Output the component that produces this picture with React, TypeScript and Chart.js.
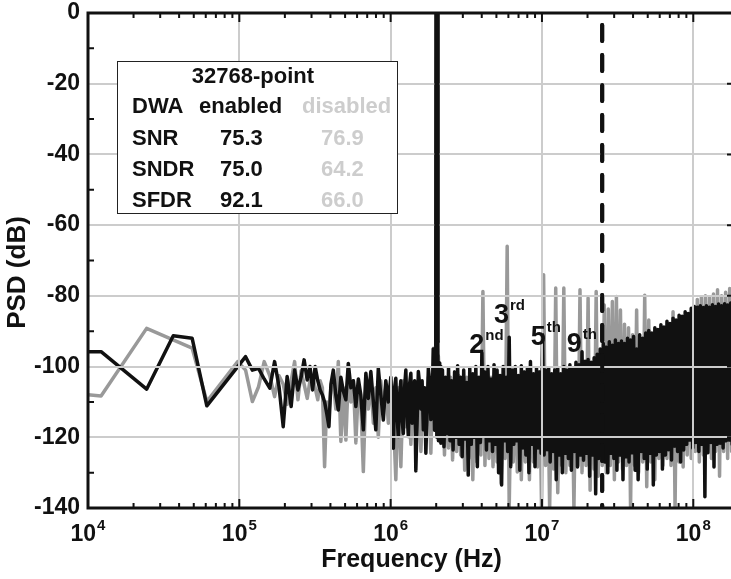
import React, { useEffect, useRef } from "react";
import { Chart, registerables } from "chart.js";

Chart.register(...registerables);

const FONT = "'Liberation Sans', Arial, Helvetica, sans-serif";
const BLACK = "#111111";
const GRAY = "#999999";
const LIGHT = "#cdcdcd";
const GRID = "#cccccc";

const CANVAS_W = 736;
const CANVAS_H = 579;

// ---------- axes ----------
const freqMin = 1e4;
const freqMax = 1.83e8;
const decadeTicks = [1e4, 1e5, 1e6, 1e7, 1e8];
const decadeExponents = ["4", "5", "6", "7", "8"];
const minorMultipliers = [2, 3, 4, 5, 6, 7, 8, 9];
const dbMin = -140;
const dbMax = 0;
const dbTicks = [0, -20, -40, -60, -80, -100, -120, -140];
const dbMinorTicks = [-10, -30, -50, -70, -90, -110, -130];

// ---------- DWA enabled (black), low-frequency bins ----------
const blackLowHz = [
  1e4, 1.22e4, 2.44e4, 3.66e4, 4.88e4, 6.1e4, 1.1e5, 1.22e5, 1.34e5, 1.46e5,
  1.59e5, 1.71e5, 1.83e5, 1.95e5, 2.07e5, 2.2e5, 2.32e5, 2.44e5, 2.56e5, 2.68e5,
  2.81e5, 2.93e5, 3.05e5, 3.17e5, 3.3e5, 3.42e5, 3.54e5, 3.66e5, 3.78e5, 3.91e5,
  4.03e5, 4.18e5, 4.34e5, 4.51e5, 4.69e5, 4.87e5, 5.06e5, 5.25e5, 5.46e5, 5.67e5,
  5.89e5, 6.12e5, 6.35e5, 6.6e5, 6.86e5, 7.12e5, 7.4e5, 7.69e5, 7.98e5, 8.29e5,
  8.61e5, 8.95e5, 9.29e5, 9.66e5, 1.003e6, 1.022e6, 1.042e6, 1.062e6, 1.082e6, 1.103e6,
  1.124e6, 1.146e6, 1.168e6, 1.19e6, 1.213e6, 1.236e6, 1.26e6, 1.284e6, 1.309e6, 1.334e6,
  1.36e6, 1.386e6, 1.413e6, 1.44e6, 1.467e6, 1.495e6, 1.524e6, 1.554e6, 1.584e6, 1.614e6,
  1.645e6, 1.677e6, 1.709e6, 1.742e6, 1.775e6, 1.81e6, 1.844e6, 1.88e6, 1.915e6, 1.95e6,
  1.99e6, 2.02e6, 2.05e6, 2.07e6, 2.09e6, 2.11e6, 2.13e6, 2.147e6, 2.17e6,
];
const blackLowDb = [
  -95.8, -95.8, -106.4, -91.3, -92, -111.1, -97.2, -101, -100.5, -103.5,
  -106.1, -98.6, -105.7, -117, -102.8, -111.3, -101, -106.6, -103, -98.1,
  -103.8, -100, -106.6, -100, -104, -106.6, -108, -110, -113.2, -117,
  -105, -101, -108, -112.3, -103, -107, -109.4, -99.1, -106, -104,
  -111.3, -103.5, -108, -117.9, -101.9, -109, -101.4, -110, -117.9, -100.5,
  -108, -115.1, -104, -110, -103, -112, -123.1, -106, -103.3, -114,
  -119.8, -108, -104, -115, -118.9, -106, -101, -113, -119.8, -105,
  -101.9, -116, -112, -104, -129.5, -116, -101.4, -105, -112, -104,
  -117.9, -106, -124.5, -113, -100.5, -104, -115, -110, -95, -118,
  -94, -120, -93, -121, -99, -118, -100, -121.7, -103,
];

// ---------- DWA disabled (gray), low-frequency bins ----------
const grayLowHz = [
  1e4, 1.22e4, 2.44e4, 4.88e4, 6.1e4, 9.76e4, 1.1e5, 1.22e5, 1.34e5, 1.46e5,
  1.59e5, 1.71e5, 1.83e5, 1.95e5, 2.07e5, 2.2e5, 2.32e5, 2.44e5, 2.56e5, 2.68e5,
  2.81e5, 2.93e5, 3.05e5, 3.17e5, 3.3e5, 3.42e5, 3.54e5, 3.66e5, 3.78e5, 3.91e5,
  4.03e5, 4.18e5, 4.34e5, 4.51e5, 4.69e5, 4.87e5, 5.06e5, 5.25e5, 5.46e5, 5.67e5,
  5.89e5, 6.12e5, 6.35e5, 6.6e5, 6.86e5, 7.12e5, 7.4e5, 7.69e5, 7.98e5, 8.29e5,
  8.61e5, 8.95e5, 9.29e5, 9.66e5, 1.003e6, 1.042e6, 1.082e6, 1.124e6, 1.168e6, 1.213e6,
  1.26e6, 1.309e6, 1.36e6, 1.413e6, 1.467e6, 1.524e6, 1.584e6, 1.645e6, 1.709e6, 1.775e6,
  1.844e6, 1.915e6, 1.99e6, 2.067e6, 2.147e6,
];
const grayLowDb = [
  -108, -108.3, -89.2, -94.8, -109.9, -98.6, -101, -109.9, -105.7, -98.6,
  -102.6, -108.5, -102.6, -105, -110.7, -104, -98.6, -109.4, -101.2, -105,
  -109, -104, -103.1, -106, -109.4, -104, -106, -128.3, -110, -113,
  -106, -104, -112, -98.6, -121.2, -106, -120.8, -103, -110, -104,
  -121.6, -106, -110, -129.7, -105, -112, -104, -116, -106, -120,
  -104, -112, -106, -116, -104, -114, -132, -106, -128.3, -104,
  -117, -106, -122, -105, -116, -104, -124, -106, -118, -103,
  -124.5, -94.8, -100, -97, -112,
];

// ---------- signal tone ----------
const signalHz = [1.99e6, 2.0e6, 2.035e6, 2.05e6];
const signalDb = [-94, 0, 0, -93];

// ---------- signal bandwidth marker ----------
const bandwidthHz = 2.5e7;

// ---------- dense high-frequency region: alternating peak / trough bins ----------
const denseStartHz = 2.2e6;
const denseEndHz = 1.85e8;
const blackDenseHi = [
  -101, -103, -100.5, -104, -101.5, -99.8, -103, -101, -104.5, -100.5,
  -102, -100, -103, -96.2, -101.5, -100, -103.5, -99.5, -101, -102.5,
  -100, -103, -91.7, -101, -100, -102.5, -99.8, -101.5, -100.5, -98.6,
  -102, -100.5, -101.5, -91, -101, -100.5, -102, -101, -100.5, -102,
  -100, -101, -99.5, -100.5, -98.8, -99.5, -95.8, -98.5, -98, -98.8,
  -97.5, -96.5, -95, -93.5, -94.5, -93, -94, -92.5, -93.5, -92.8,
  -93.5, -92, -92.5, -91.5, -95, -91, -92, -90.5, -89.8, -90.5,
  -89, -89.5, -88.2, -88.8, -87.2, -87.8, -86.3, -86.8, -85.5, -85.8,
  -84.5, -85, -83.5, -83, -83.2, -82.8, -83.3, -82.8, -83.2, -82.5,
  -83, -82.3, -82.8, -82.2, -82.6, -82,
];
const blackDenseLo = [
  -122.7, -119, -121, -123.6, -120, -122, -125.5, -120.5, -130.7, -122,
  -120, -128.3, -121.5, -119.5, -123.6, -121, -124, -122, -130, -133.5,
  -121, -124, -128.3, -122, -121, -129.3, -123, -125, -130, -122,
  -128.3, -123, -124.5, -125, -123.5, -127, -124, -132, -125, -130,
  -124.5, -126, -129.3, -124, -128.4, -125, -126.5, -124.5, -131, -125,
  -136, -126, -125, -127, -130, -124.5, -126, -129.3, -125, -132,
  -125.5, -127, -124.4, -129.3, -132, -124, -126, -129, -124.5, -133.5,
  -125, -124, -129, -125, -123.5, -126.4, -122.5, -124, -127, -123.6,
  -122, -120.8, -123, -121.5, -124, -122, -136.8, -124.4, -121.5, -128.4,
  -122, -121.7, -123, -121, -120.8, -122,
];
const grayDenseHi = [
  -103, -104, -103, -104, -102.5, -104, -103, -104, -102.5, -104,
  -78.8, -104, -103, -104, -102.5, -104, -66, -104, -103, -104,
  -102.5, -104, -103, -104, -103, -74, -103, -104, -77.8, -103,
  -77.8, -102, -101.5, -101, -78.3, -100, -80.6, -99.5, -78.8, -97,
  -82.6, -83.7, -81.6, -80.2, -84, -88, -89, -91, -84, -94,
  -79.8, -86.8, -92, -91, -90, -89.5, -88.5, -84.5, -88, -87,
  -86.5, -86, -84.5, -81, -80.5, -80, -80.5, -79.5, -78.3, -80,
  -79, -77.9,
];
const grayDenseLo = [
  -125, -123, -126.4, -124, -125, -129.3, -126, -132, -127, -125,
  -128, -126, -128.3, -127, -133, -126, -140, -127, -129.8, -132,
  -127, -132, -127, -128.4, -140, -128, -140, -129, -135.7, -128,
  -130, -128, -140, -128, -130, -128, -135, -129, -131, -128,
  -130, -128, -132, -127, -129, -128, -140, -128, -130, -127,
  -134, -127, -132, -126, -128, -126, -128, -140, -127, -128.4,
  -125, -126, -124, -127, -125, -124, -126, -124, -131, -124,
  -126, -124,
];

// ---------- text ----------
const legendTitle = "32768-point";
const legendHeader = ["DWA", "enabled", "disabled"];
const legendMetrics = ["SNR", "SNDR", "SFDR"];
const legendEnabled = ["75.3", "75.0", "92.1"];
const legendDisabled = ["76.9", "64.2", "66.0"];
const harmonicMain = ["2", "3", "5", "9"];
const harmonicSup = ["nd", "rd", "th", "th"];
// anchor (left / baseline) of each harmonic label, in axis units
const harmonicLabelHz = [3.31e6, 4.82e6, 8.43e6, 1.46e7];
const harmonicLabelDb = [-96.1, -87.8, -93.9, -95.8];

function buildSeries(lowHz: number[], lowDb: number[], hi: number[], lo: number[]) {
  const pts = lowHz.map((f, i) => ({ x: f, y: lowDb[i] }));
  const n = hi.length;
  const ratio = denseEndHz / denseStartHz;
  for (let i = 0; i < n; i++) {
    pts.push({ x: denseStartHz * Math.pow(ratio, i / n), y: hi[i] });
    pts.push({ x: denseStartHz * Math.pow(ratio, (i + 0.5) / n), y: lo[i] });
  }
  return pts;
}

const overlayPlugin = {
  id: "psdOverlay",
  afterDraw(chart: any) {
    const ctx: CanvasRenderingContext2D = chart.ctx;
    const { left, right, top, bottom } = chart.chartArea;
    const xs = chart.scales.x;
    const ys = chart.scales.y;

    // markers (signal tone + bandwidth) on top of the grid
    [0, 1].forEach((i) => {
      const meta = chart.getDatasetMeta(i);
      ctx.save();
      ctx.beginPath();
      ctx.rect(left, top, right - left, bottom - top);
      ctx.clip();
      meta.controller.draw();
      ctx.restore();
    });

    ctx.save();
    // ticks
    ctx.strokeStyle = BLACK;
    ctx.lineWidth = 2;
    ctx.beginPath();
    decadeTicks.forEach((d) => {
      const px = xs.getPixelForValue(d);
      ctx.moveTo(px, bottom);
      ctx.lineTo(px, bottom - 9);
      ctx.moveTo(px, top);
      ctx.lineTo(px, top + 9);
      minorMultipliers.forEach((m) => {
        const v = d * m;
        if (v > freqMax) return;
        const p = xs.getPixelForValue(v);
        ctx.moveTo(p, bottom);
        ctx.lineTo(p, bottom - 5);
        ctx.moveTo(p, top);
        ctx.lineTo(p, top + 5);
      });
    });
    dbMinorTicks.forEach((v) => {
      const py = ys.getPixelForValue(v);
      ctx.moveTo(left, py);
      ctx.lineTo(left + 6, py);
    });
    dbTicks.forEach((v) => {
      const py = ys.getPixelForValue(v);
      ctx.moveTo(right, py);
      ctx.lineTo(right - 6, py);
    });
    ctx.stroke();

    // frame
    ctx.lineWidth = 3;
    ctx.strokeRect(left, top, right - left, bottom - top);

    // x tick labels 10^n
    ctx.fillStyle = BLACK;
    ctx.textBaseline = "alphabetic";
    ctx.textAlign = "left";
    decadeTicks.forEach((d, i) => {
      const px = xs.getPixelForValue(d);
      ctx.font = `bold 23px ${FONT}`;
      const w1 = ctx.measureText("10").width;
      ctx.font = `bold 15px ${FONT}`;
      const w2 = ctx.measureText(decadeExponents[i]).width;
      const start = px - (w1 + 1 + w2) / 2;
      ctx.font = `bold 23px ${FONT}`;
      ctx.fillText("10", start, 541);
      ctx.font = `bold 15px ${FONT}`;
      ctx.fillText(decadeExponents[i], start + w1 + 1, 530);
    });

    // axis titles
    ctx.font = `bold 25px ${FONT}`;
    ctx.textAlign = "center";
    ctx.fillText("Frequency (Hz)", (left + 731) / 2 + 2, 567);
    ctx.save();
    ctx.translate(25, 272.5);
    ctx.rotate(-Math.PI / 2);
    ctx.font = `bold 26px ${FONT}`;
    ctx.fillText("PSD (dB)", 0, 0);
    ctx.restore();

    // legend box
    const bx = left + 29;
    const by = top + 48;
    ctx.fillStyle = "#ffffff";
    ctx.fillRect(bx, by, 280, 152);
    ctx.strokeStyle = "#222222";
    ctx.lineWidth = 1;
    ctx.strokeRect(bx + 0.5, by + 0.5, 280, 152);
    ctx.font = `bold 22px ${FONT}`;
    ctx.fillStyle = BLACK;
    ctx.textAlign = "center";
    ctx.fillText(legendTitle, bx + 136, by + 22);
    ctx.textAlign = "left";
    ctx.fillText(legendHeader[0], bx + 15, by + 52);
    ctx.fillText(legendHeader[1], bx + 82, by + 52);
    ctx.fillStyle = LIGHT;
    ctx.fillText(legendHeader[2], bx + 185, by + 52);
    legendMetrics.forEach((m, i) => {
      const yy = by + 83.5 + i * 31.3;
      ctx.fillStyle = BLACK;
      ctx.fillText(m, bx + 15, yy);
      ctx.fillText(legendEnabled[i], bx + 103, yy);
      ctx.fillStyle = LIGHT;
      ctx.fillText(legendDisabled[i], bx + 204, yy);
    });

    // harmonic labels
    ctx.fillStyle = BLACK;
    harmonicMain.forEach((t, i) => {
      const px = xs.getPixelForValue(harmonicLabelHz[i]);
      const py = ys.getPixelForValue(harmonicLabelDb[i]);
      ctx.font = `bold 27px ${FONT}`;
      const w = ctx.measureText(t).width;
      ctx.fillText(t, px, py);
      ctx.font = `bold 15px ${FONT}`;
      ctx.fillText(harmonicSup[i], px + w + 1, py - 13);
    });
    ctx.restore();
  },
};

export default function App() {
  const canvasRef = useRef<HTMLCanvasElement | null>(null);

  useEffect(() => {
    const canvas = canvasRef.current;
    if (!canvas) return;
    const blackData = buildSeries(blackLowHz, blackLowDb, blackDenseHi, blackDenseLo);
    const grayData = buildSeries(grayLowHz, grayLowDb, grayDenseHi, grayDenseLo);
    const signalData = signalHz.map((f, i) => ({ x: f, y: signalDb[i] }));
    const bandwidthData = [
      { x: bandwidthHz, y: dbMax },
      { x: bandwidthHz, y: dbMin },
    ];

    const chart = new Chart(canvas, {
      type: "line",
      data: {
        datasets: [
          { label: "signal", data: signalData, borderColor: BLACK, borderWidth: 3.5, order: 0 },
          {
            label: "bandwidth",
            data: bandwidthData,
            borderColor: BLACK,
            borderWidth: 4,
            borderDash: [16, 14],
            borderDashOffset: 18,
            borderCapStyle: "round",
            order: 0,
          },
          { label: "DWA enabled", data: blackData, borderColor: BLACK, borderWidth: 3.5, order: 1 },
          { label: "DWA disabled", data: grayData, borderColor: GRAY, borderWidth: 3.5, order: 2 },
        ],
      } as any,
      options: {
        animation: false,
        responsive: false,
        maintainAspectRatio: false,
        devicePixelRatio: 1,
        layout: { padding: { top: 13, right: 3, left: 0, bottom: 0 } },
        elements: {
          point: { radius: 0, hoverRadius: 0 },
          line: { tension: 0, borderJoinStyle: "round", borderCapStyle: "round" },
        },
        plugins: { legend: { display: false }, tooltip: { enabled: false } },
        events: [],
        scales: {
          x: {
            type: "logarithmic",
            min: freqMin,
            max: freqMax,
            afterBuildTicks: (s: any) => {
              s.ticks = decadeTicks.map((v) => ({ value: v }));
            },
            afterFit: (s: any) => {
              s.height = 71;
              s.paddingLeft = 0;
              s.paddingRight = 0;
            },
            ticks: { display: false },
            grid: { color: GRID, lineWidth: 2, drawTicks: false, z: 1 },
            border: { display: false },
          },
          y: {
            type: "linear",
            min: dbMin,
            max: dbMax,
            afterBuildTicks: (s: any) => {
              s.ticks = dbTicks.map((v) => ({ value: v }));
            },
            afterFit: (s: any) => {
              s.width = 88;
              s.paddingTop = 0;
              s.paddingBottom = 0;
            },
            ticks: {
              color: BLACK,
              padding: 8,
              font: { family: FONT, size: 23, weight: "bold" },
            },
            grid: { color: GRID, lineWidth: 2, drawTicks: false, z: 1 },
            border: { display: false },
          },
        },
      } as any,
      plugins: [overlayPlugin],
    });
    return () => chart.destroy();
  }, []);

  return (
    <div style={{ position: "fixed", left: 0, top: 0, width: 731, height: 579, overflow: "hidden", background: "#fff" }}>
      <canvas ref={canvasRef} width={CANVAS_W} height={CANVAS_H} style={{ display: "block", width: CANVAS_W, height: CANVAS_H }} />
    </div>
  );
}
